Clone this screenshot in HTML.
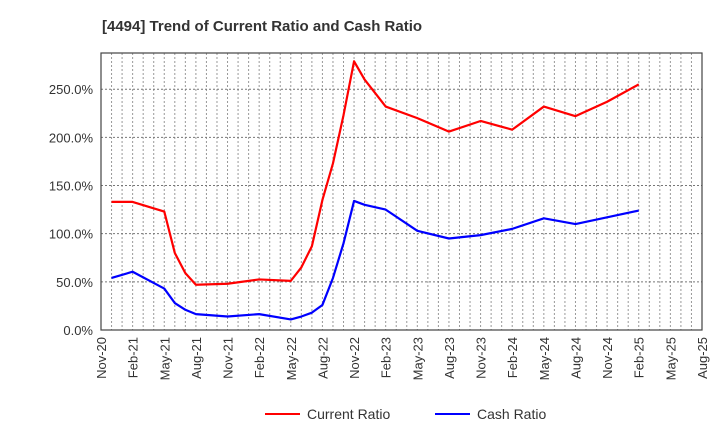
<!DOCTYPE html>
<html><head><meta charset="utf-8"><style>
body{margin:0;background:#fff;font-family:"Liberation Sans",sans-serif;}
svg text{font-family:"Liberation Sans",sans-serif;}
</style></head><body>
<svg width="720" height="440" viewBox="0 0 720 440">
<text x="102" y="31" font-size="15" font-weight="bold" fill="#333">[4494]  Trend of Current Ratio and Cash Ratio</text>
<g id="grid"></g>
<g id="axes"></g>
<g id="series"></g>
<g>
<line x1="265" y1="414" x2="300" y2="414" stroke="#ff0000" stroke-width="2"/>
<text x="307" y="419" font-size="14" fill="#333">Current Ratio</text>
<line x1="435" y1="414" x2="470" y2="414" stroke="#0000ff" stroke-width="2"/>
<text x="477" y="419" font-size="14" fill="#333">Cash Ratio</text>
</g>
</svg>
<script>
const monthIdx=[1,3,6,7,8,9,12,15,18,19,20,21,22,23,24,25,27,30,33,36,39,42,45,48,51];
const currentRatio=[133,133,123,80,59,47,48,52.5,51,65,87,135,173,223,279,260,232,220,206,217,208,232,222,237,255];
const cashRatio=[54,60.5,43,28,21,16.5,14,16.5,11,14,18,26,54,90,134,130,125,103,95,98.5,105,116,110,117,124];
const tickLabels=["Nov-20","Feb-21","May-21","Aug-21","Nov-21","Feb-22","May-22","Aug-22","Nov-22","Feb-23","May-23","Aug-23","Nov-23","Feb-24","May-24","Aug-24","Nov-24","Feb-25","May-25","Aug-25"];
const yTicks=[0,50,100,150,200,250];
const L=101,R=702,T=53,B=330,NM=57,YMAX=287.6;
const xs=m=>L+(R-L)*m/NM, ys=v=>B-(B-T)*v/YMAX;
const NS="http://www.w3.org/2000/svg";
function mk(t,a,p){const e=document.createElementNS(NS,t);for(const k in a)e.setAttribute(k,a[k]);p.appendChild(e);return e;}
const grid=document.getElementById('grid'),axes=document.getElementById('axes'),ser=document.getElementById('series');
for(let m=1;m<NM;m++){const g=mk('line',{x1:xs(m),x2:xs(m),y1:T,y2:B,stroke:'#999','stroke-dasharray':'2,2','stroke-width':1},grid);

}
yTicks.forEach(v=>{const g=mk('line',{x1:L,x2:R,y1:ys(v),y2:ys(v),stroke:'#777','stroke-dasharray':'2,2','stroke-width':1},grid);


const t=mk('text',{x:L-8,y:ys(v)+5,'text-anchor':'end','font-size':13,fill:'#333'},axes);t.textContent=v.toFixed(1)+'%';

});
const fr=mk('rect',{x:L,y:T,width:R-L,height:B-T,fill:'none',stroke:'#444','stroke-width':1.2},axes);


tickLabels.forEach((s,i)=>{const x=xs(i*3);const t=mk('text',{x:0,y:0,'text-anchor':'end','font-size':13,fill:'#333',transform:`translate(${x+5},337) rotate(-90)`},axes);t.textContent=s;

});
function line(vals,color,name){const p=mk('polyline',{points:monthIdx.map((m,i)=>xs(m)+','+ys(vals[i])).join(' '),fill:'none',stroke:color,'stroke-width':2.2,'stroke-linejoin':'round'},ser);

}
line(currentRatio,'#ff0000','current-ratio-line');
line(cashRatio,'#0000ff','cash-ratio-line');
</script>
</body></html>
